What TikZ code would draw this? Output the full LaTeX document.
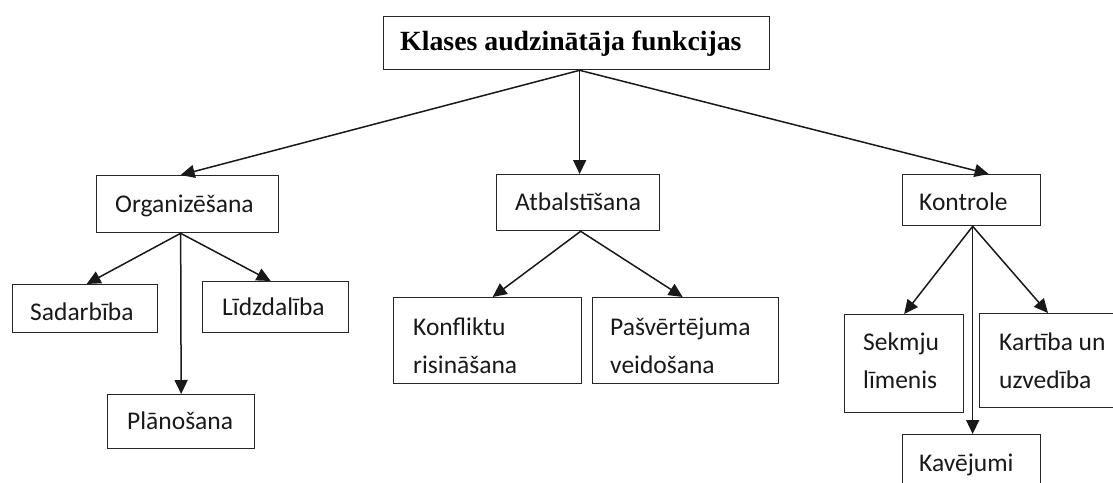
\documentclass[tikz,border=0pt]{standalone}
\usepackage{fontspec}
\setmainfont{Carlito}
\newfontfamily\titlefont{Liberation Serif}
\usetikzlibrary{arrows.meta,positioning}
\begin{document}
\begin{tikzpicture}[x=1pt,y=-1pt,
  box/.style={draw=black!85,line width=1.3pt,inner sep=0pt,anchor=north west,rectangle},
  txt/.style={anchor=base west,inner sep=0pt,font=\fontsize{25.5}{30}\selectfont,text=black!90},
  ttl/.style={anchor=base west,inner sep=0pt,font=\titlefont\bfseries\fontsize{27.8}{32}\selectfont},
  arr/.style={line width=1.5pt,draw=black!90,-{Triangle[length=14pt,width=13pt]}}]
\useasboundingbox (0,0) rectangle (1113,482);
\clip (0,0) rectangle (1113,482);
% boxes
\node[box,minimum width=386pt,minimum height=53pt] (top) at (383,16) {};
\node[box,minimum width=182pt,minimum height=57pt] (org) at (96,175) {};
\node[box,minimum width=145pt,minimum height=48pt] (sad) at (12,284) {};
\node[box,minimum width=146pt,minimum height=51pt] (lid) at (202,281) {};
\node[box,minimum width=147pt,minimum height=54pt] (pla) at (107,394) {};
\node[box,minimum width=163pt,minimum height=56pt] (atb) at (496,174) {};
\node[box,minimum width=188pt,minimum height=86pt] (kon) at (393,297) {};
\node[box,minimum width=186pt,minimum height=86pt] (pas) at (592,297) {};
\node[box,minimum width=138pt,minimum height=51pt] (kontr) at (902,174) {};
\node[box,minimum width=119pt,minimum height=98pt] (sek) at (844,314) {};
\node[box,minimum width=150pt,minimum height=94pt] (kar) at (979,313) {};
\node[box,minimum width=138pt,minimum height=80pt] (kav) at (902,434) {};
% texts
\node[ttl] (topt) at (400,50) {Klases audzinātāja funkcijas};
\node[txt] (orgt) at (115,212) {Organizēšana};
\node[txt] (sadt) at (30,320) {Sadarbība};
\node[txt] (lidt) at (222,315) {Līdzdalība};
\node[txt] (plat) at (127,429) {Plānošana};
\node[txt] (atbt) at (515,210) {Atbalstīšana};
\node[txt] (kont1) at (413,335) {Konfliktu};
\node[txt] (kont2) at (413,373) {risināšana};
\node[txt] (past1) at (610,335) {Pašvērtējuma};
\node[txt] (past2) at (610,373) {veidošana};
\node[txt] (kontrt) at (919,210) {Kontrole};
\node[txt] (sekt1) at (863,350) {Sekmju};
\node[txt] (sekt2) at (863,388) {līmenis};
\node[txt] (kart1) at (999,350) {Kartība un};
\node[txt] (kart2) at (999,388) {uzvedība};
\node[txt] (kavt) at (919,471) {Kavējumi};
% connectors
\draw[arr] ([xshift=3pt]top.south) -- ([xshift=-7pt]org.north);
\draw[arr] ([xshift=3pt]top.south) -- ([xshift=1.5pt]atb.north);
\draw[arr] ([xshift=3pt]top.south) -- ([xshift=17pt]kontr.north);
\draw[arr] ([xshift=-7pt]org.south) -- ([xshift=1.5pt]sad.north);
\draw[arr] ([xshift=-7pt]org.south) -- ([xshift=-5pt]lid.north);
\draw[arr] ([xshift=-7pt]org.south) -- (pla.north);
\draw[arr] ([xshift=2.5pt]atb.south) -- ([xshift=5pt]kon.north);
\draw[arr] ([xshift=2.5pt]atb.south) -- ([xshift=-3pt]pas.north);
\draw[arr] ([xshift=1pt]kontr.south) -- (sek.north);
\draw[arr] ([xshift=1pt]kontr.south) -- ([xshift=69pt]kar.north west);
\draw[arr] ([xshift=1pt]kontr.south) -- ([xshift=1pt]kav.north);
\end{tikzpicture}
\end{document}
